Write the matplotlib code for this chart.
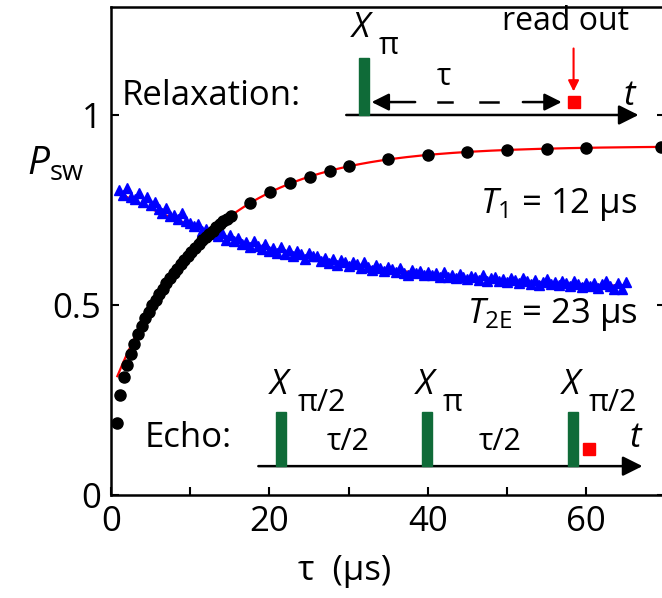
import numpy as np
import matplotlib.pyplot as plt

plt.rcParams['font.family'] = ['Open Sans', 'DejaVu Sans']
plt.rcParams['mathtext.fontset'] = 'custom'
plt.rcParams['mathtext.rm'] = 'Open Sans'
plt.rcParams['mathtext.it'] = 'Open Sans:italic'
plt.rcParams['mathtext.sf'] = 'Open Sans'

# --- relaxation (T1) data, black dots ---
tau_t1 = [0.7, 1.15, 1.6, 2.05, 2.5, 2.95, 3.4, 3.85, 4.3, 4.75, 5.2, 5.65, 6.1,
          6.55, 7.0, 7.45, 7.9, 8.35, 8.8, 9.25, 9.7, 10.15, 10.6, 11.05, 11.5,
          11.95, 12.4, 12.85, 13.3, 13.75, 14.2, 14.65, 15.1, 17.6, 20.1, 22.6,
          25.1, 27.6, 30.1, 35, 40, 45, 50, 55, 60, 69.5]
p_t1 = [0.190, 0.262, 0.310, 0.343, 0.370, 0.398, 0.424, 0.446, 0.465, 0.482,
        0.499, 0.514, 0.529, 0.543, 0.557, 0.570, 0.583, 0.595, 0.607, 0.619,
        0.630, 0.640, 0.651, 0.660, 0.670, 0.679, 0.688, 0.696, 0.704, 0.712,
        0.720, 0.727, 0.734, 0.768, 0.797, 0.820, 0.838, 0.853, 0.865, 0.883,
        0.895, 0.903, 0.908, 0.911, 0.914, 0.916]

# --- echo (T2E) data, blue triangles, sampled every 0.5 us from 1 to 65 us ---
tau_echo_start, tau_echo_step = 1.0, 0.5
p_echo = [0.802, 0.790, 0.808, 0.785, 0.779, 0.796, 0.771, 0.784, 0.762, 0.770,
          0.752, 0.741, 0.755, 0.733, 0.738, 0.726, 0.742, 0.722, 0.715, 0.709,
          0.712, 0.694, 0.700, 0.686, 0.697, 0.681, 0.690, 0.671, 0.683, 0.668,
          0.676, 0.660, 0.665, 0.652, 0.669, 0.655, 0.648, 0.661, 0.643, 0.650,
          0.638, 0.652, 0.634, 0.645, 0.629, 0.641, 0.635, 0.622, 0.637, 0.628,
          0.630, 0.615, 0.625, 0.611, 0.620, 0.606, 0.618, 0.612, 0.603, 0.614,
          0.609, 0.598, 0.612, 0.600, 0.593, 0.606, 0.597, 0.589, 0.601, 0.595,
          0.588, 0.597, 0.585, 0.580, 0.592, 0.583, 0.590, 0.578, 0.586, 0.579,
          0.584, 0.575, 0.588, 0.573, 0.579, 0.570, 0.582, 0.574, 0.568, 0.577,
          0.573, 0.566, 0.578, 0.562, 0.570, 0.575, 0.563, 0.569, 0.560, 0.572,
          0.567, 0.559, 0.571, 0.562, 0.556, 0.565, 0.553, 0.561, 0.568, 0.555,
          0.560, 0.552, 0.564, 0.557, 0.549, 0.562, 0.555, 0.548, 0.559, 0.551,
          0.558, 0.546, 0.556, 0.562, 0.549, 0.543, 0.557, 0.541, 0.560]
tau_echo = tau_echo_start + tau_echo_step * np.arange(len(p_echo))

# fit parameters (exponential fits)
T1, t1_inf, t1_amp = 12.0, 0.918, 0.647
T2E, t2_inf, t2_amp = 23.0, 0.534, 0.273

xticks_major = [0, 20, 40, 60]
xticks_minor = [10, 30, 50]
yticks = [0, 0.5, 1]
ytick_labels = ['0', '0.5', '1']

GREEN = '#0f6b38'
FS = 25

fig = plt.figure(figsize=(6.62, 5.98), dpi=100)
ax = fig.add_axes([0.1677, 0.1722, 0.8375, 0.816])

# fits
tf1 = np.linspace(0.8, 70, 300)
ax.plot(tf1, t1_inf - t1_amp * np.exp(-tf1 / T1), color='red', lw=1.6, zorder=2)
tf2 = np.linspace(1.0, 65, 300)
ax.plot(tf2, t2_inf + t2_amp * np.exp(-tf2 / T2E), color='red', lw=1.6, zorder=2)

# data
ax.plot(tau_echo, p_echo, '^', color='blue', ms=7.5, mec='blue', zorder=3)
ax.plot(tau_t1, p_t1, 'o', color='black', ms=8, zorder=4, clip_on=False)

ax.set_xlim(0, 70)
ax.set_ylim(0, 1.284)
ax.set_xticks(xticks_major)
ax.set_xticks(xticks_minor, minor=True)
ax.set_yticks(yticks)
ax.set_yticklabels(ytick_labels)
ax.tick_params(which='both', direction='in', length=6, width=1.5,
               labelsize=FS, right=True, pad=7)
for s in ax.spines.values():
    s.set_linewidth(1.8)

fig.text(56 / 662, 1 - 165 / 598, '$P_{\\mathrm{sw}}$', fontsize=28,
         ha='center', va='center')
ax.text(29.5, -0.2, 'τ  (μs)', fontsize=FS, ha='center', va='center')

ax.text(66.5, 0.765, '$T_1$ = 12 μs', fontsize=FS, ha='right', va='center')
ax.text(66.5, 0.475, '$T_{\\mathrm{2E}}$ = 23 μs', fontsize=FS, ha='right',
        va='center')


def pulse_label(x, y, sub):
    # italic X with a large, well dropped subscript
    ax.text(x, y, 'X', fontsize=FS, style='italic', ha='left', va='baseline')
    ax.text(x + 3.4, y - 0.045, sub, fontsize=22, ha='left', va='baseline')


# --- relaxation pulse diagram ---
ax.text(1.4, 1.05, 'Relaxation:', fontsize=FS, ha='left', va='center')
ax.annotate('', xy=(66.6, 1.0), xytext=(29.7, 1.0),
            arrowprops=dict(arrowstyle='-|>', lw=1.8, color='black',
                            mutation_scale=30, shrinkA=0, shrinkB=0))
ax.add_patch(plt.Rectangle((31.3, 1.0), 1.3, 0.15, color=GREEN, zorder=5))
pulse_label(30.4, 1.205, 'π')
ax.annotate('', xy=(32.9, 1.034), xytext=(38.4, 1.034),
            arrowprops=dict(arrowstyle='-|>', lw=1.8, color='black',
                            mutation_scale=26, shrinkA=0, shrinkB=0))
ax.annotate('', xy=(56.9, 1.034), xytext=(52.0, 1.034),
            arrowprops=dict(arrowstyle='-|>', lw=1.8, color='black',
                            mutation_scale=26, shrinkA=0, shrinkB=0))
dash_segments = [(41.3, 43.0), (46.6, 48.9)]
for a, b in dash_segments:
    ax.plot([a, b], [1.034, 1.034], color='black', lw=1.8)
ax.text(42.0, 1.1, 'τ', fontsize=22, ha='center', va='center')
ax.plot(58.4, 1.034, 's', color='red', ms=8, zorder=6)
ax.annotate('', xy=(58.4, 1.062), xytext=(58.4, 1.175),
            arrowprops=dict(arrowstyle='-|>', lw=1.5, color='red',
                            mutation_scale=16, shrinkA=0, shrinkB=0))
ax.text(57.4, 1.245, 'read out', fontsize=23, ha='center', va='center')
ax.text(65.5, 1.05, '$t$', fontsize=FS, ha='center', va='center')

# --- echo pulse diagram ---
ax.text(4.3, 0.15, 'Echo:', fontsize=FS, ha='left', va='center')
ax.annotate('', xy=(67.1, 0.076), xytext=(18.6, 0.076),
            arrowprops=dict(arrowstyle='-|>', lw=1.8, color='black',
                            mutation_scale=30, shrinkA=0, shrinkB=0))
pulse_pos = [21.5, 39.9, 58.3]
pulse_sub = ['π/2', 'π', 'π/2']
for xp, sub in zip(pulse_pos, pulse_sub):
    ax.add_patch(plt.Rectangle((xp - 0.62, 0.076), 1.24, 0.143, color=GREEN,
                               zorder=5))
    pulse_label(xp - 1.4, 0.265, sub)
for xm in [30.0, 49.1]:
    ax.text(xm, 0.14, 'τ/2', fontsize=22, ha='center', va='center')
ax.plot(60.4, 0.121, 's', color='red', ms=8, zorder=6)
ax.text(66.3, 0.15, '$t$', fontsize=FS, ha='center', va='center')

fig.savefig('out.png', dpi=100)
